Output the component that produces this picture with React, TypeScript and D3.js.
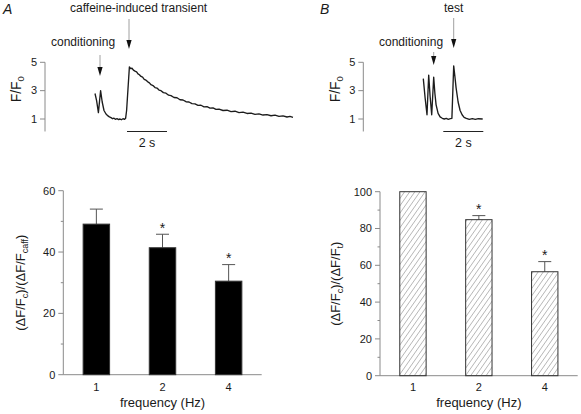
import React from 'react';
import * as d3 from 'd3';

// ---------- data ----------
// Panel A trace: time (s) and F/F0
const traceATime = [0.00,0.08,0.17,0.28,0.36,0.45,0.55,0.65,0.72,0.80,0.88,0.95,1.02,1.10,1.18,1.25,1.32,1.40,1.47,1.53,1.58,1.72,1.78,1.85,1.92,2.00,2.08,2.15,2.22,2.30,2.38,2.46,2.55,2.64,2.72,2.80,2.90,3.00,3.10,3.20,3.30,3.42,3.55,3.68,3.80,3.95,4.10,4.25,4.40,4.55,4.70,4.85,5.00,5.15,5.30,5.45,5.60,5.75,5.90,6.05,6.20,6.40,6.60,6.80,7.00,7.20,7.40,7.60,7.80,8.00,8.20,8.40,8.60,8.80,9.00,9.20,9.40,9.60,9.75,9.90];
const traceAValue = [2.80,2.30,1.45,3.00,2.20,1.60,1.35,1.22,1.15,1.10,1.02,1.06,0.98,1.02,0.96,1.00,0.95,1.02,0.97,1.05,1.60,4.68,4.55,4.58,4.45,4.38,4.33,4.18,4.12,4.00,3.95,3.80,3.74,3.62,3.55,3.42,3.36,3.22,3.18,3.04,3.00,2.86,2.82,2.68,2.65,2.52,2.50,2.36,2.34,2.22,2.20,2.08,2.07,1.96,1.97,1.86,1.87,1.77,1.79,1.68,1.70,1.60,1.62,1.52,1.55,1.45,1.48,1.39,1.42,1.33,1.36,1.28,1.31,1.23,1.27,1.18,1.22,1.14,1.18,1.12];
// Panel B trace
const traceBTime = [0.00,0.09,0.185,0.27,0.34,0.42,0.52,0.58,0.64,0.74,0.84,0.95,1.05,1.15,1.25,1.35,1.43,1.52,1.58,1.64,1.74,1.84,1.94,2.04,2.15,2.30,2.45,2.60,2.75,2.97];
const traceBValue = [3.85,2.50,1.30,4.10,2.60,1.30,3.95,2.80,2.00,1.40,1.15,1.05,1.00,1.04,0.98,1.02,1.05,4.75,4.00,3.20,2.20,1.60,1.30,1.12,1.05,0.98,1.03,0.97,1.02,1.00];

const traceTicks = [1, 3, 5];
// annotation times (s)
const arrowA = [{ t: 0.25, label: 'conditioning' }, { t: 1.7, label: 'caffeine-induced transient' }];
const arrowB = [{ t: 0.52, label: 'conditioning' }, { t: 1.52, label: 'test' }];
const scaleBarA = [1.6, 3.6];
const scaleBarB = [1.0, 3.0];

const frequencies = ['1', '2', '4'];
const caffMeans = [49.1, 41.4, 30.5];
const caffSems = [4.9, 4.4, 5.4];
const caffSig = [false, true, true];
const testMeans = [100, 84.8, 56.5];
const testSems = [0, 2.2, 5.5];
const testSig = [false, true, true];
const caffMajorTicks = [0, 20, 40, 60];
const caffMinorTicks = [10, 30, 50];
const testMajorTicks = [0, 20, 40, 60, 80, 100];
const testMinorTicks = [10, 30, 50, 70, 90];

const FONT = 'Liberation Sans, Arial, Helvetica, sans-serif';
const AXIS = '#8a8a8a';
const TXT = '#1a1a1a';

function TracePanel({ letter, letterX, xs, ys, times, values, arrows, bar, axisX, labelX, arrowSpecs }: any) {
  const line = d3.line<number>().x((_, i) => xs(times[i])).y((_, i) => ys(values[i]));
  const pts = times.map((t: number) => t);
  return (
    <g>
      <text x={letterX} y={13.5} fontSize={14} fontStyle="italic" fill={TXT}>{letter}</text>
      <line x1={axisX} x2={axisX} y1={ys(5)} y2={ys(0.12)} stroke={AXIS} strokeWidth={1} />
      {traceTicks.map(t => (
        <g key={t}>
          <line x1={axisX - 5} x2={axisX} y1={ys(t)} y2={ys(t)} stroke={AXIS} />
          <text x={axisX - 8} y={ys(t) + 3.8} fontSize={11} textAnchor="end" fill={TXT}>{t}</text>
        </g>
      ))}
      <text transform={`translate(${labelX},${ys(3.1)}) rotate(-90)`} fontSize={14} textAnchor="middle" fill={TXT}>
        F/F<tspan fontSize={9.5} dy={3}>0</tspan>
      </text>
      <path d={line(pts) || ''} fill="none" stroke="#1c1c1c" strokeWidth={1.35} strokeLinejoin="round" />
      {arrows.map((a: any, i: number) => {
        const s = arrowSpecs[i];
        const x = xs(a.t);
        return (
          <g key={i}>
            <text x={s.tx} y={s.ty} fontSize={12} fill={TXT}>{a.label}</text>
            <line x1={x} x2={x} y1={s.y1} y2={s.y2 - 8} stroke="#a0a0a0" strokeWidth={1} />
            <path d={`M${x - 2.6},${s.y2 - 9} L${x + 2.6},${s.y2 - 9} L${x},${s.y2} Z`} fill="#111" />
          </g>
        );
      })}
      <line x1={xs(bar[0])} x2={xs(bar[1])} y1={131.5} y2={131.5} stroke="#222" strokeWidth={1} />
      <text x={(xs(bar[0]) + xs(bar[1])) / 2} y={147} fontSize={12.5} textAnchor="middle" fill={TXT}>2 s</text>
    </g>
  );
}

function BarPanel({ band, y, means, sems, sig, major, minor, fill, ylabel, labelX }: any) {
  const [r0, r1] = band.range();
  const bw = band.bandwidth();
  return (
    <g>
      <line x1={r0} x2={r0} y1={y.range()[0]} y2={y.range()[1]} stroke={AXIS} />
      <line x1={r0} x2={r1} y1={y.range()[0]} y2={y.range()[0]} stroke={AXIS} />
      {major.map((t: number) => (
        <g key={t}>
          <line x1={r0 - 5} x2={r0} y1={y(t)} y2={y(t)} stroke={AXIS} />
          <text x={r0 - 8} y={y(t) + 3.8} fontSize={11} textAnchor="end" fill={TXT}>{t}</text>
        </g>
      ))}
      {minor.map((t: number) => (
        <line key={t} x1={r0 - 2.5} x2={r0} y1={y(t)} y2={y(t)} stroke={AXIS} />
      ))}
      {frequencies.map((f, i) => {
        const x0 = band(f);
        const cx = x0 + bw / 2;
        const top = y(means[i]);
        const errTop = y(means[i] + sems[i]);
        return (
          <g key={f}>
            {sems[i] > 0 && (
              <g>
                <line x1={cx} x2={cx} y1={top} y2={errTop} stroke="#555" />
                <line x1={cx - 6.5} x2={cx + 6.5} y1={errTop} y2={errTop} stroke="#555" />
              </g>
            )}
            <rect x={x0} y={top} width={bw} height={y(0) - top} fill={fill} stroke="#333" strokeWidth={1} />
            {sig[i] && <text x={cx} y={errTop - 1.5} fontSize={14} textAnchor="middle" fill={TXT}>*</text>}
            <text x={cx} y={390.5} fontSize={11} textAnchor="middle" fill={TXT}>{f}</text>
          </g>
        );
      })}
      <text x={(r0 + r1) / 2} y={407} fontSize={13} textAnchor="middle" fill={TXT}>frequency (Hz)</text>
      <text transform={`translate(${labelX},${y(30 * (y.domain()[1] / 60))}) rotate(-90)`} fontSize={13} textAnchor="middle" fill={TXT}>
        {ylabel}
      </text>
    </g>
  );
}

export default function App() {
  const yT = d3.scaleLinear().domain([1, 5]).range([119, 62.3]);
  const xA = d3.scaleLinear().domain([0, 10]).range([95, 295]);
  const xB = d3.scaleLinear().domain([0, 10]).range([423.3, 623.3]);

  const bandA = d3.scaleBand<string>().domain(frequencies).range([63.3, 261.7]).paddingInner(0.6).paddingOuter(0.3);
  const bandB = d3.scaleBand<string>().domain(frequencies).range([380, 577.7]).paddingInner(0.6).paddingOuter(0.3);
  const yA = d3.scaleLinear().domain([0, 60]).range([374.7, 190.7]);
  const yB = d3.scaleLinear().domain([0, 100]).range([375.7, 191.7]);

  const labelA = (
    <>
      (ΔF/F<tspan fontSize={9} dy={3}>c</tspan><tspan dy={-3}>)/(ΔF/F</tspan><tspan fontSize={9} dy={3}>caff</tspan><tspan dy={-3}>)</tspan>
    </>
  );
  const labelB = (
    <>
      (ΔF/F<tspan fontSize={9} dy={3}>c</tspan><tspan dy={-3}>)/(ΔF/F</tspan><tspan fontSize={9} dy={3}>t</tspan><tspan dy={-3}>)</tspan>
    </>
  );

  return (
    <svg width={581} height={414} style={{ position: 'absolute', left: 0, top: 0, background: '#fff' }} fontFamily={FONT}>
      <rect width={581} height={414} fill="#fff" />
      <TracePanel letter="A" letterX={3} xs={xA} ys={yT} times={traceATime} values={traceAValue} arrows={arrowA}
        bar={scaleBarA} axisX={45} labelX={21}
        arrowSpecs={[{ tx: 51, ty: 45.5, y1: 55, y2: 76 }, { tx: 70, ty: 12, y1: 19, y2: 49 }]} />
      <TracePanel letter="B" letterX={320} xs={xB} ys={yT} times={traceBTime} values={traceBValue} arrows={arrowB}
        bar={scaleBarB} axisX={363.3} labelX={340}
        arrowSpecs={[{ tx: 379, ty: 45.5, y1: 52, y2: 65 }, { tx: 444, ty: 12, y1: 18, y2: 48 }]} />
      <defs>
        <pattern id="hatch" patternUnits="userSpaceOnUse" width={4.2} height={4.2} patternTransform="rotate(35)">
          <line x1={0} y1={0} x2={0} y2={4.2} stroke="#666" strokeWidth={0.8} />
        </pattern>
      </defs>
      <BarPanel band={bandA} y={yA} means={caffMeans} sems={caffSems} sig={caffSig} major={caffMajorTicks}
        minor={caffMinorTicks} fill="#000" ylabel={labelA} labelX={24.5} />
      <BarPanel band={bandB} y={yB} means={testMeans} sems={testSems} sig={testSig} major={testMajorTicks}
        minor={testMinorTicks} fill="url(#hatch)" ylabel={labelB} labelX={340} />
    </svg>
  );
}
